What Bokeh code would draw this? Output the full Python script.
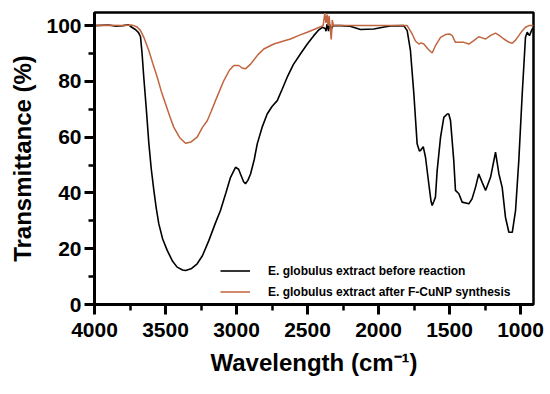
from bokeh.plotting import figure
from bokeh.models import Range1d, FixedTicker, Legend, LegendItem
from bokeh.embed import file_html
from bokeh.resources import INLINE

# Wavenumber (cm^-1) and transmittance (%)
before_wn = [4000, 3900, 3850, 3800, 3760, 3740, 3710, 3690, 3676, 3665, 3653, 3635, 3617, 3600,
             3582, 3565, 3547, 3520, 3488, 3450, 3418, 3380, 3359, 3320, 3277, 3240, 3195, 3150,
             3113, 3075, 3042, 3007, 2985, 2972, 2950, 2937, 2920, 2901, 2875, 2854, 2820, 2784,
             2750, 2713, 2680, 2643, 2600, 2549, 2500, 2456, 2420, 2396, 2375, 2370, 2362, 2352,
             2345, 2335, 2320, 2270, 2200, 2127, 2033, 1960, 1915, 1822, 1798, 1775, 1751, 1728,
             1712, 1704, 1685, 1669, 1646, 1630, 1622, 1610, 1599, 1587, 1563, 1540, 1516, 1505,
             1493, 1470, 1458, 1434, 1411, 1364, 1341, 1317, 1294, 1270, 1246, 1211, 1176, 1152,
             1129, 1106, 1082, 1058, 1035, 1012, 988, 965, 953, 937, 918, 908]
before_t = [100, 100.2, 99.8, 100, 100.3, 99.5, 98.5, 97.5, 96, 90, 81.5, 70, 57.6, 48.5,
            40.9, 34.5, 28.9, 23.5, 19.4, 15.5, 13.4, 12.4, 12.2, 12.8, 14.6, 17.5, 22.9, 29,
            33.7, 40, 45.6, 49.2, 48.5, 46.8, 44, 43.3, 44.5, 46.8, 52, 57.6, 63.5, 68.3,
            71, 73.1, 77, 81.5, 86, 89.9, 93.5, 96.4, 98.5, 99.4, 99, 98, 100.5, 98,
            100.5, 98.5, 100, 100, 99.8, 98.6, 98.8, 99.5, 99.9, 100, 98.2, 91, 75.5, 57.6,
            55, 55.2, 56.6, 52.8, 43.3, 37, 35.5, 37, 38.5, 48, 60, 67.1, 68.3, 68.3,
            66, 51.6, 40.9, 39.7, 36.7, 36.1, 37.9, 42, 46.8, 43.8, 40.9, 45.6, 54.6, 46.8,
            42, 31.3, 25.9, 25.9, 33.7, 51.6, 75.5, 95.8, 97.6, 96.4, 98.8, 99]

after_wn = [4000, 3900, 3800, 3740, 3723, 3700, 3676, 3650, 3617, 3590, 3558, 3530, 3500, 3470,
            3442, 3400, 3359, 3320, 3277, 3240, 3206, 3180, 3148, 3089, 3050, 3019, 2984, 2960,
            2937, 2901, 2850, 2808, 2737, 2680, 2620, 2560, 2502, 2450, 2408, 2390, 2378, 2370,
            2362, 2355, 2348, 2340, 2333, 2325, 2318, 2300, 2200, 2000, 1850, 1798, 1763, 1740,
            1716, 1700, 1681, 1650, 1622, 1599, 1563, 1528, 1500, 1481, 1458, 1430, 1399, 1364,
            1329, 1294, 1270, 1246, 1210, 1176, 1150, 1117, 1080, 1058, 1035, 1012, 990, 965,
            940, 908]
after_t = [100, 100.1, 100, 100.2, 100, 99.5, 98.2, 95.5, 91, 86.5, 81.5, 76.5, 72, 67.5,
           63.6, 59.8, 57.8, 58.3, 60, 63.5, 65.9, 69, 73.1, 80.3, 84, 85.7, 85.7, 84.8,
           84.5, 86.2, 89.5, 91.6, 93.4, 94.3, 95.2, 96.5, 97.6, 98.7, 99.6, 100, 104.5, 101,
           104, 100, 103.5, 99, 95, 102, 100, 100, 100, 100, 100, 100, 97, 94.5,
           93.4, 93.8, 93.4, 91.5, 90.2, 92.8, 95.8, 96.8, 97, 96.4, 94, 94, 94, 93.4,
           94.6, 96, 95.6, 95.2, 96.5, 97.3, 96.5, 95.2, 94, 93.7, 94.8, 96.4, 98, 99.4,
           100, 100]

x_major = [4000, 3500, 3000, 2500, 2000, 1500, 1000]
x_minor = [3750, 3250, 2750, 2250, 1750, 1250]
y_major = [0, 20, 40, 60, 80, 100]
y_minor = [10, 30, 50, 70, 90]

label_before = "E. globulus extract before reaction"
label_after = "E. globulus extract after F-CuNP synthesis"

FONT = "Liberation Sans"

p = figure(width=548, height=392, output_backend="svg", toolbar_location=None,
           x_range=Range1d(4000, 908.5), y_range=Range1d(0, 104.7),
           min_border_left=94, min_border_top=12, min_border_right=15, min_border_bottom=88)
p.background_fill_color = "white"
p.border_fill_color = "white"
p.outline_line_color = "black"
p.outline_line_width = 2.5
p.xgrid.visible = False
p.ygrid.visible = False

r1 = p.line(before_wn, before_t, line_color="black", line_width=1.6)
r2 = p.line(after_wn, after_t, line_color="#c0653f", line_width=1.5)

for ax in (p.xaxis[0], p.yaxis[0]):
    ax.axis_line_width = 3
    ax.major_tick_line_width = 3
    ax.minor_tick_line_width = 2.5
    ax.major_tick_out = 10
    ax.major_tick_in = 0
    ax.minor_tick_out = 6
    ax.minor_tick_in = 0
    ax.major_label_text_font = FONT
    ax.major_label_text_font_style = "bold"
    ax.major_label_text_color = "black"
    ax.axis_label_text_font = FONT
    ax.axis_label_text_font_style = "bold"
    ax.axis_label_text_color = "black"

p.xaxis.ticker = FixedTicker(ticks=x_major, minor_ticks=x_minor)
p.yaxis.ticker = FixedTicker(ticks=y_major, minor_ticks=y_minor)
p.xaxis.major_label_text_font_size = "21px"
p.yaxis.major_label_text_font_size = "21px"
p.xaxis.major_label_standoff = 8
p.yaxis.major_label_standoff = 3
p.xaxis.axis_label = "Wavelength (cm\u207b\u00b9)"
p.yaxis.axis_label = "Transmittance (%)"
p.xaxis.axis_label_text_font_size = "24px"
p.yaxis.axis_label_text_font_size = "24px"
p.xaxis.axis_label_standoff = 9
p.yaxis.axis_label_standoff = 7

legend = Legend(items=[LegendItem(label=label_before, renderers=[r1]),
                       LegendItem(label=label_after, renderers=[r2])],
                location=(126, 2), padding=0, margin=0, spacing=0,
                glyph_width=30, glyph_height=21, label_height=21, label_standoff=18,
                label_text_font=FONT, label_text_font_style="bold",
                label_text_font_size="12px", label_text_color="black",
                background_fill_alpha=0, border_line_alpha=0)
p.add_layout(legend)

open("out.html", "w").write(file_html(p, INLINE))
